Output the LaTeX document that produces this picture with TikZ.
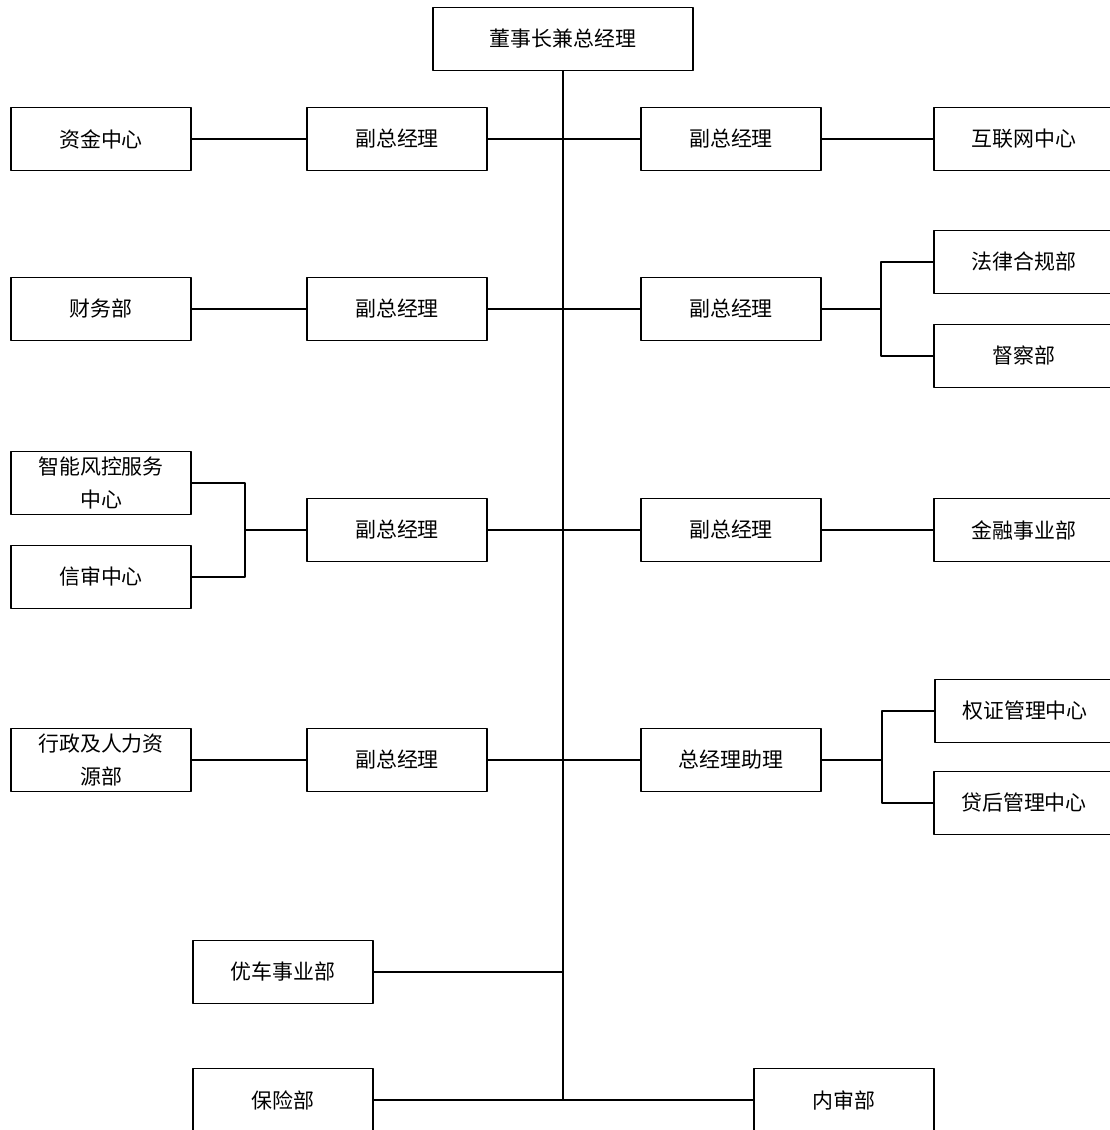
\documentclass[tikz,border=0pt]{standalone}
\usepackage{fontspec}
\newfontfamily\cjk{Noto Sans CJK SC}
\usepackage{tikz}

\begin{document}
\begin{tikzpicture}[line join=bevel,line width=1.2bp,
  unit/.style={draw,rectangle,minimum width=180bp,minimum height=63bp,inner sep=0pt,align=center,font=\cjk\fontsize{21}{34}\selectfont}]
%%
  \path[use as bounding box] (0bp,0bp) rectangle (1110bp,1130bp);
  \node (ceo) at (563bp,1091bp) [unit,minimum width=260bp] {董事长兼总经理};
  \node (fund) at (101bp,991bp) [unit] {资金中心};
  \node (vp_l1) at (397bp,991bp) [unit] {副总经理};
  \node (vp_r1) at (731bp,991bp) [unit] {副总经理};
  \node (web) at (1024bp,991bp) [unit] {互联网中心};
  \node (finance) at (101bp,821bp) [unit] {财务部};
  \node (vp_l2) at (397bp,821bp) [unit] {副总经理};
  \node (vp_r2) at (731bp,821bp) [unit] {副总经理};
  \node (legal) at (1024bp,868bp) [unit] {法律合规部};
  \node (inspect) at (1024bp,774bp) [unit] {督察部};
  \node (risk) at (101bp,647bp) [unit] {智能风控服务\\中心};
  \node (credit) at (101bp,553bp) [unit] {信审中心};
  \node (vp_l3) at (397bp,600bp) [unit] {副总经理};
  \node (vp_r3) at (731bp,600bp) [unit] {副总经理};
  \node (fin_biz) at (1024bp,600bp) [unit] {金融事业部};
  \node (admin) at (101bp,370bp) [unit] {行政及人力资\\源部};
  \node (vp_l4) at (397bp,370bp) [unit] {副总经理};
  \node (assist) at (731bp,370bp) [unit] {总经理助理};
  \node (title) at (1025bp,419bp) [unit] {权证管理中心};
  \node (postloan) at (1024bp,327bp) [unit] {贷后管理中心};
  \node (car) at (283bp,158bp) [unit] {优车事业部};
  \node (insure) at (283bp,30bp) [unit] {保险部};
  \node (audit) at (844bp,30bp) [unit] {内审部};
  \coordinate (trunk_end) at (563bp,30bp);
  \coordinate (car_joint) at (563bp,158bp);
  \coordinate (jr2) at (881bp,821bp);
  \coordinate (jl3) at (245bp,600bp);
  \coordinate (jr4) at (882bp,370bp);
  \draw (ceo) -- (trunk_end);
  \draw (fund) -- (vp_l1);
  \draw (vp_l1) -- (vp_r1);
  \draw (vp_r1) -- (web);
  \draw (finance) -- (vp_l2);
  \draw (vp_l2) -- (vp_r2);
  \draw (vp_r2) -- (jr2);
  \draw (legal) -| (jr2) |- (inspect);
  \draw (risk) -| (jl3) |- (credit);
  \draw (jl3) -- (vp_l3);
  \draw (vp_l3) -- (vp_r3);
  \draw (vp_r3) -- (fin_biz);
  \draw (admin) -- (vp_l4);
  \draw (vp_l4) -- (assist);
  \draw (assist) -- (jr4);
  \draw (title) -| (jr4) |- (postloan);
  \draw (car) -- (car_joint);
  \draw (insure) -- (audit);
%
\end{tikzpicture}
\end{document}
